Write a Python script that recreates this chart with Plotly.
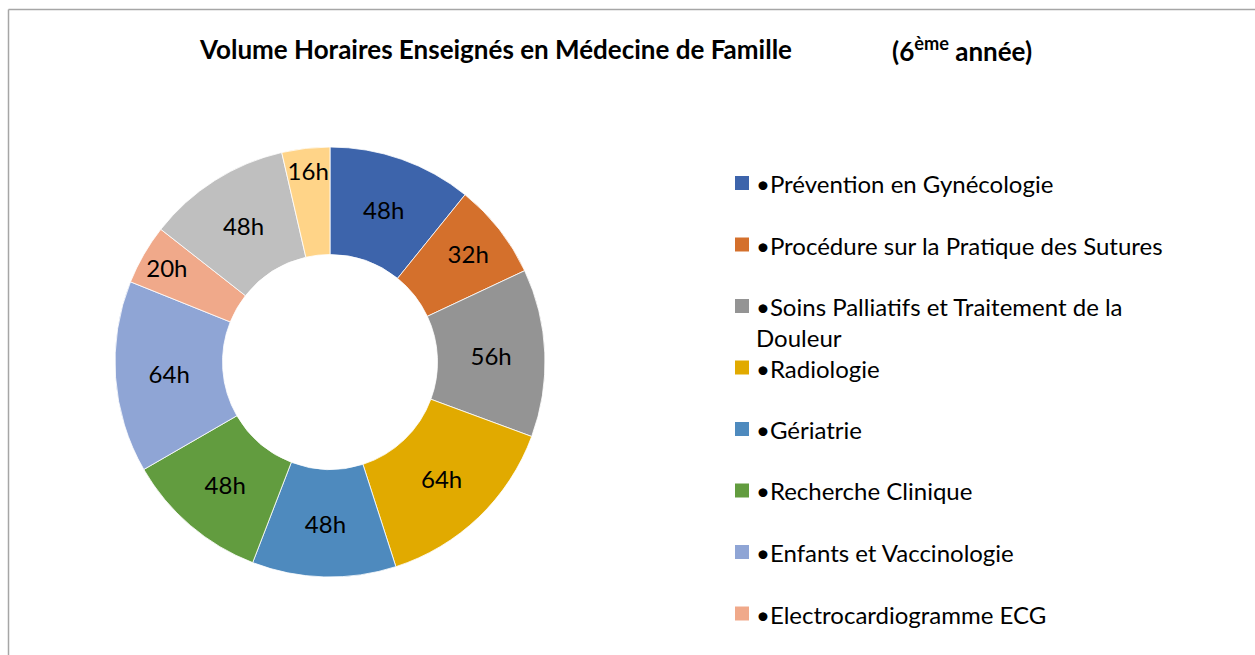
import plotly.graph_objects as go

W, H = 1255, 655

# ---- data ----
legend_labels = [
    "•Prévention en Gynécologie",
    "•Procédure sur la Pratique des Sutures",
    "•Soins Palliatifs et Traitement de la<br>Douleur",
    "•Radiologie",
    "•Gériatrie",
    "•Recherche Clinique",
    "•Enfants et Vaccinologie",
    "•Electrocardiogramme ECG",
]
extra_labels = ["Module 9", "Module 10"]   # legend entries cut off in the original
hours = [48, 32, 56, 64, 48, 48, 64, 20, 48, 16]
colors = ["#3D64AB", "#D4702C", "#949494", "#E1AA00", "#4E8ABE",
          "#629C3F", "#8FA5D5", "#F0A98A", "#BFBFBF", "#FFD488"]

slice_labels = [l.replace("<br>", " ") for l in legend_labels] + extra_labels

FONT = "Lato, 'Open Sans', sans-serif"

def px_x(x):
    return x / W

def px_y(y):
    return 1 - y / H

fig = go.Figure()
fig.add_trace(go.Pie(
    labels=slice_labels,
    values=hours,
    hole=0.5,
    sort=False,
    direction="clockwise",
    rotation=0,
    marker=dict(colors=colors, line=dict(color="white", width=0.8)),
    texttemplate="%{value}h",
    textposition="inside",
    insidetextorientation="horizontal",
    textfont=dict(family=FONT, size=24, color="black"),
    showlegend=False,
    domain=dict(x=[px_x(115), px_x(545)], y=[px_y(577), px_y(147)]),
))

# title
fig.add_annotation(x=px_x(197), y=px_y(49), xref="paper", yref="paper",
                   xanchor="left", yanchor="middle", showarrow=False,
                   text="<b>Volume Horaires Enseignés en Médecine de Famille</b>",
                   font=dict(family=FONT, size=26, color="black"))
fig.add_annotation(x=px_x(890), y=px_y(49), xref="paper", yref="paper",
                   xanchor="left", yanchor="middle", showarrow=False,
                   text="<b>(6<sup>ème</sup> année)</b>",
                   font=dict(family=FONT, size=26, color="black"))

# legend (manual, to reproduce the original spacing)
y0, step = 183, 61.5
for i, lab in enumerate(legend_labels):
    yc = y0 + i * step
    fig.add_shape(type="rect", xref="paper", yref="paper",
                  x0=px_x(735), x1=px_x(749), y0=px_y(yc - 7), y1=px_y(yc + 7),
                  fillcolor=colors[i], line=dict(width=0))
    fig.add_annotation(x=px_x(754), y=px_y(yc - 16), xref="paper", yref="paper",
                       xanchor="left", yanchor="top", align="left", showarrow=False,
                       text=lab, font=dict(family=FONT, size=24, color="black"))

# chart frame (cropped: only top and left edges visible)
fig.add_shape(type="line", xref="paper", yref="paper",
              x0=px_x(8.5), x1=1.01, y0=px_y(9.5), y1=px_y(9.5),
              line=dict(color="#A6A6A6", width=1.5))
fig.add_shape(type="line", xref="paper", yref="paper",
              x0=px_x(8.5), x1=px_x(8.5), y0=px_y(9.5), y1=-0.01,
              line=dict(color="#A6A6A6", width=1.5))

fig.update_layout(
    width=W, height=H,
    margin=dict(l=0, r=0, t=0, b=0),
    paper_bgcolor="white", plot_bgcolor="white",
    uniformtext=dict(minsize=24, mode="show"),
    font=dict(family=FONT),
)

fig.write_html("out.html")
